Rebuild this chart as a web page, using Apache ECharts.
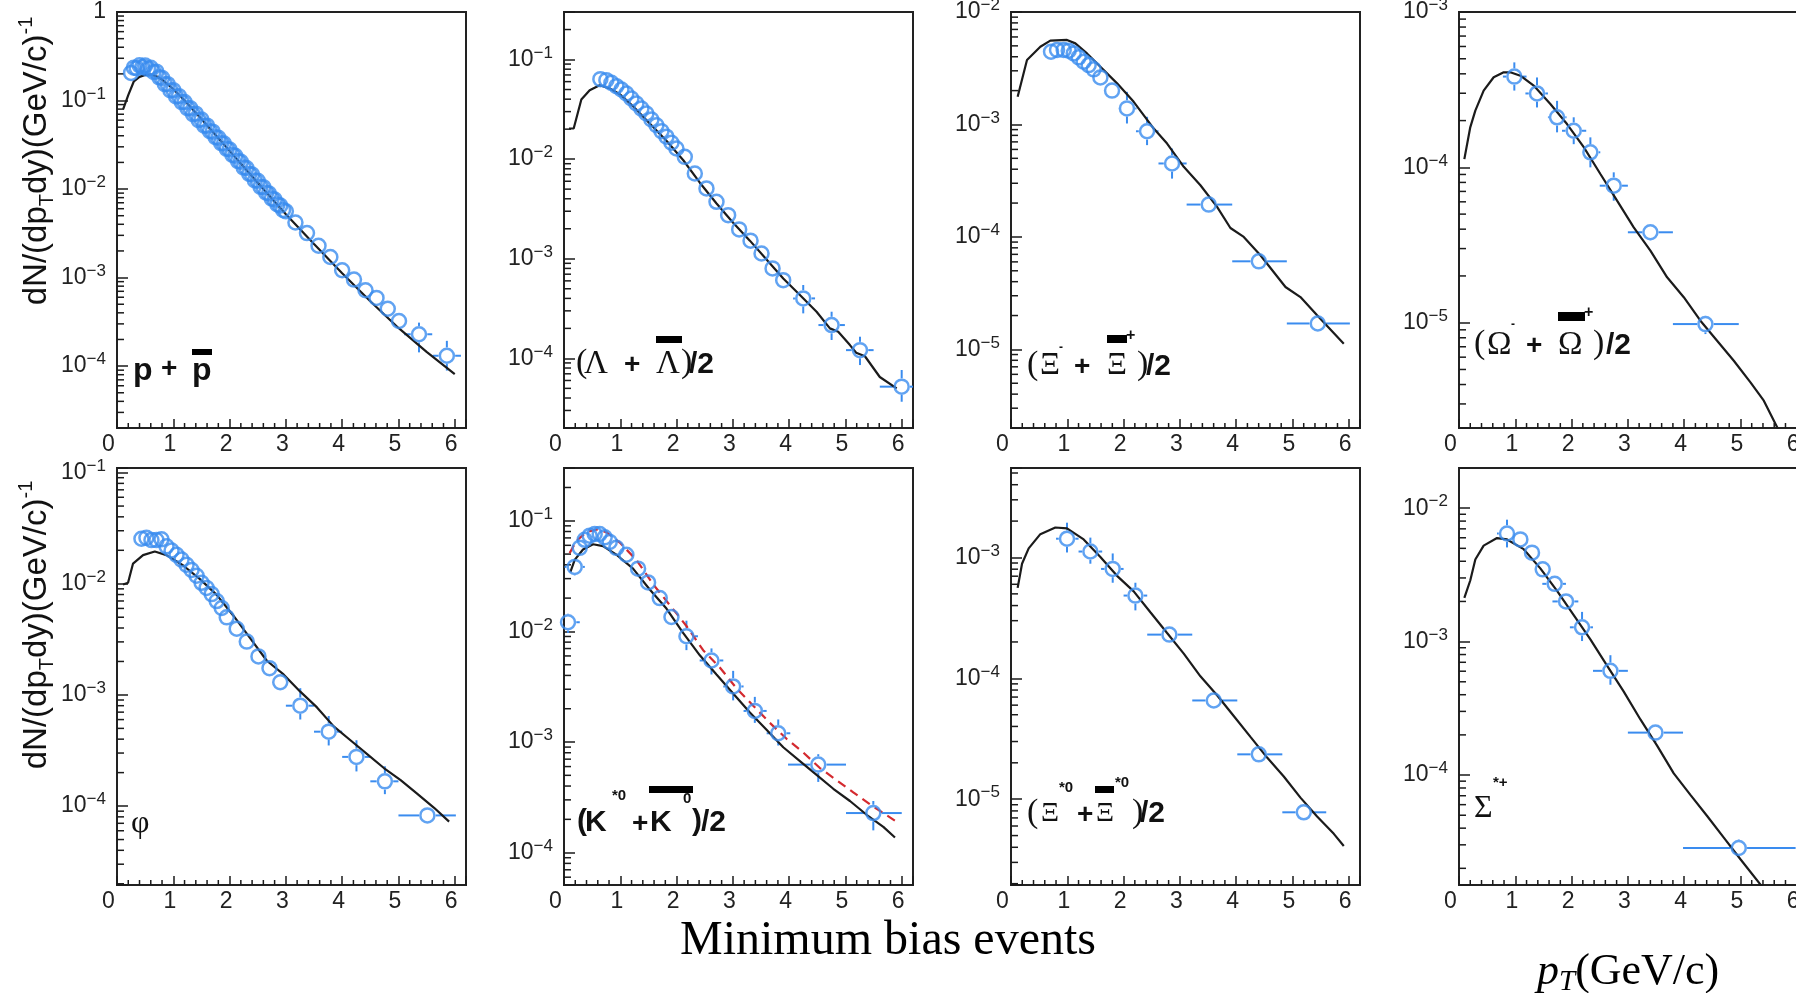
<!DOCTYPE html>
<html><head><meta charset="utf-8">
<script src="https://cdn.jsdelivr.net/npm/echarts@6.0.0/dist/echarts.min.js"></script>
<style>html,body{margin:0;padding:0;background:#fff;}#c{width:1796px;height:993px;}</style>
</head><body><div id="c"></div>
<script>
// ---------- DATA ----------
const xTicks = [0, 1, 2, 3, 4, 5, 6];

// p + pbar
const ppX = [0.25,0.30,0.35,0.40,0.45,0.50,0.55,0.60,0.65,0.70,0.75,0.80,0.85,0.90,0.95,1.00,1.05,1.10,1.15,1.20,1.25,1.30,1.35,1.40,1.45,1.50,1.55,1.60,1.65,1.70,1.75,1.80,1.85,1.90,1.95,2.00,2.05,2.10,2.15,2.20,2.25,2.30,2.35,2.40,2.45,2.50,2.55,2.60,2.65,2.70,2.75,2.80,2.85,2.90,2.95,3.00,3.17,3.375,3.58,3.79,4.0,4.21,4.415,4.61,4.81,5.01,5.365,5.86];
const ppY = [0.205,0.235,0.232,0.25,0.238,0.248,0.228,0.234,0.21,0.212,0.183,0.18,0.153,0.153,0.13,0.131,0.111,0.112,0.096,0.096,0.082,0.082,0.07,0.071,0.06,0.061,0.052,0.052,0.045,0.0445,0.0385,0.038,0.033,0.0327,0.0285,0.028,0.0243,0.0238,0.0207,0.0203,0.0175,0.0173,0.0148,0.0146,0.0125,0.0124,0.0106,0.0105,0.0091,0.0089,0.0078,0.0076,0.0067,0.0065,0.0058,0.0056,4.19e-3,3.18e-3,2.29e-3,1.71e-3,1.21e-3,9.5e-4,7.2e-4,5.9e-4,4.45e-4,3.23e-4,2.29e-4,1.31e-4];
const ppErr = [[5.365,2.29e-4,5.10,5.60,1.43e-4,3.1e-4],[5.86,1.31e-4,5.61,6.11,8.9e-5,1.93e-4]];
const ppFitX = [0.11,0.2,0.3,0.4,0.5,0.6,0.7,0.8,1.0,1.2,1.5,2.0,2.5,3.0,3.5,4.0,4.5,5.0,5.5,6.0];
const ppFitY = [0.08,0.115,0.165,0.185,0.195,0.196,0.188,0.172,0.135,0.1,0.062,0.027,0.0118,0.0052,0.0024,0.00112,0.00054,0.00027,0.000145,0.000081];

// (Lambda + anti-Lambda)/2
const lamX = [0.646,0.753,0.842,0.931,1.02,1.108,1.197,1.286,1.375,1.464,1.553,1.642,1.731,1.82,1.909,1.998,2.146,2.324,2.531,2.709,2.916,3.112,3.314,3.509,3.705,3.894,4.25,4.754,5.258,5.999];
const lamY = [0.0635,0.0621,0.0583,0.054,0.05,0.0456,0.0406,0.0362,0.0322,0.0287,0.025,0.0219,0.0191,0.0168,0.0146,0.0128,0.01055,0.00718,0.00508,0.00373,0.00274,0.00197,0.00152,0.00113,0.0008,0.00061,0.0004,0.000216,0.000121,0.000052];
const lamErr = [[4.25,4.0e-4,4.07,4.46,2.83e-4,5.45e-4],[4.754,2.16e-4,4.52,4.99,1.53e-4,2.94e-4],[5.258,1.21e-4,5.01,5.5,8.57e-5,1.65e-4],[5.999,5.2e-5,5.61,6.2,3.67e-5,7.64e-5]];
const lamFitX = [0.089,0.172,0.308,0.456,0.634,0.812,0.99,1.227,1.523,1.82,2.116,2.413,2.71,3.005,3.302,3.598,3.895,4.191,4.487,4.724,4.872,5.08,5.19,5.346,5.61,5.91];
const lamFitY = [0.0203,0.0203,0.0397,0.0492,0.0552,0.0512,0.0449,0.034,0.0228,0.0153,0.0098,0.0058,0.00359,0.0023,0.00152,0.000985,0.000635,0.000432,0.000294,0.0002,0.000185,0.000136,0.000114,0.000105,6.5e-5,5.0e-5];

// (Xi- + anti-Xi+)/2
const xiX = [0.711,0.818,0.936,1.025,1.114,1.203,1.291,1.38,1.469,1.588,1.795,2.06,2.417,2.861,3.513,4.402,5.45];
const xiY = [4.43e-3,4.59e-3,4.59e-3,4.53e-3,4.28e-3,3.95e-3,3.61e-3,3.37e-3,3.09e-3,2.62e-3,2.0e-3,1.39e-3,8.7e-4,4.5e-4,1.94e-4,6.07e-5,1.7e-5];
const xiErr = [[2.06,1.39e-3,1.91,2.23,1.02e-3,1.95e-3],[2.417,8.7e-4,2.22,2.62,6.55e-4,1.17e-3],[2.861,4.5e-4,2.62,3.12,3.3e-4,6.11e-4],[3.513,1.94e-4,3.12,3.93,null,null],[4.402,6.07e-5,3.93,4.9,null,null],[5.45,1.7e-5,4.9,6.02,null,null]];
const xiFitX = [0.118,0.284,0.521,0.699,0.995,1.143,1.35,1.588,1.884,2.18,2.536,2.773,3.069,3.365,3.661,3.898,4.135,4.431,4.876,5.142,5.438,5.912];
const xiFitY = [1.76e-3,3.74e-3,4.91e-3,5.56e-3,5.64e-3,5.26e-3,4.28e-3,3.26e-3,2.32e-3,1.59e-3,9.2e-4,6.77e-4,4.2e-4,2.88e-4,1.85e-4,1.2e-4,1.0e-4,6.87e-5,3.59e-5,2.92e-5,2.01e-5,1.12e-5];

// (Omega- + anti-Omega+)/2
const omX = [0.983,1.386,1.742,2.038,2.334,2.749,3.4,4.378];
const omY = [3.84e-4,2.99e-4,2.1e-4,1.72e-4,1.25e-4,7.62e-5,3.82e-5,9.8e-6];
const omErr = [[0.983,3.84e-4,0.78,1.2,3.12e-4,4.74e-4],[1.386,2.99e-4,1.18,1.58,2.43e-4,3.79e-4],[1.742,2.1e-4,1.58,1.91,1.68e-4,2.68e-4],[2.038,1.72e-4,1.83,2.26,1.41e-4,2.1e-4],[2.334,1.25e-4,2.19,2.51,1.0e-4,1.56e-4],[2.749,7.62e-5,2.5,3.0,6.1e-5,9.29e-5],[3.4,3.82e-5,3.0,3.8,3.37e-5,4.32e-5],[4.378,9.8e-6,3.8,4.97,8.45e-6,1.11e-5]];
const omFitX = [0.095,0.2,0.29,0.438,0.616,0.794,0.912,1.09,1.327,1.623,1.919,2.216,2.512,2.808,3.104,3.4,3.697,3.993,4.289,4.585,4.882,5.178,5.415,5.652,5.9];
const omFitY = [1.13e-4,1.81e-4,2.32e-4,3.12e-4,3.8e-4,4.09e-4,4.09e-4,3.89e-4,3.36e-4,2.56e-4,1.9e-4,1.35e-4,9.06e-5,6.1e-5,4.11e-5,2.91e-5,1.96e-5,1.46e-5,1.03e-5,7.66e-6,5.69e-6,4.13e-6,3.15e-6,2.12e-6,1.4e-6];

// phi
const phiX = [0.434,0.523,0.612,0.701,0.79,0.879,0.969,1.058,1.147,1.236,1.325,1.414,1.503,1.592,1.682,1.771,1.86,1.949,2.127,2.305,2.513,2.709,2.9,3.256,3.761,4.254,4.759,5.514];
const phiY = [0.0254,0.0259,0.0247,0.0247,0.0251,0.0217,0.0199,0.0182,0.0165,0.0148,0.0133,0.0118,0.0102,0.00918,0.00807,0.00699,0.00605,0.00499,0.00394,0.00302,0.00222,0.00174,0.0013,8.0e-4,4.67e-4,2.77e-4,1.67e-4,8.24e-5];
const phiErr = [[3.256,8.0e-4,3.0,3.5,6.01e-4,1.15e-3],[3.761,4.67e-4,3.5,4.0,3.51e-4,6.46e-4],[4.254,2.77e-4,4.0,4.5,2.05e-4,3.91e-4],[4.759,1.67e-4,4.5,5.0,1.28e-4,2.28e-4],[5.514,8.24e-5,5.0,6.02,7.24e-5,9.31e-5]];
const phiFitX = [0.107,0.196,0.285,0.463,0.671,0.879,1.176,1.474,1.771,2.068,2.365,2.662,2.959,3.256,3.553,3.85,4.147,4.444,4.741,5.039,5.336,5.633,5.9];
const phiFitY = [9.86e-3,0.0102,0.0152,0.0181,0.0195,0.0181,0.0146,0.011,0.00794,0.00516,0.00324,0.00203,0.00153,0.00107,7.72e-4,5.21e-4,3.91e-4,2.93e-4,2.2e-4,1.71e-4,1.29e-4,9.65e-5,7.24e-5];

// (K*0 + anti-K*0)/2
const kstX = [0.071,0.19,0.279,0.368,0.456,0.545,0.634,0.723,0.812,0.931,1.108,1.316,1.494,1.701,1.909,2.175,2.62,3.005,3.39,3.806,4.517,5.495];
const kstY = [0.0121,0.0383,0.0569,0.0673,0.0733,0.076,0.076,0.0708,0.0644,0.0569,0.0493,0.0369,0.0277,0.02,0.0135,0.00904,0.00546,0.00318,0.00191,0.0012,6.25e-4,2.28e-4];
const kstErr = [[0.071,0.0121,0.0,0.28,0.0097,0.01445],[0.19,0.0383,0.01,0.37,0.032,0.0458],[2.175,0.00904,2.03,2.38,0.00677,0.0125],[2.62,0.00546,2.41,2.83,0.00408,0.00702],[3.005,0.00318,2.83,3.19,0.00238,0.0044],[3.39,0.00191,3.19,3.6,0.00149,0.00256],[3.806,0.0012,3.6,4.02,9.3e-4,0.0016],[4.517,6.25e-4,3.98,5.01,4.36e-4,7.76e-4],[5.495,2.28e-4,5.01,6.0,1.59e-4,2.93e-4]];
const kstFitX = [0.113,0.19,0.338,0.516,0.694,0.931,1.227,1.523,1.82,2.116,2.413,2.709,3.005,3.302,3.598,3.895,4.191,4.487,4.784,5.08,5.376,5.673,5.88];
const kstFitY = [0.0344,0.0443,0.055,0.0613,0.059,0.0493,0.0369,0.0239,0.0161,0.0097,0.00608,0.00408,0.00275,0.00185,0.00129,8.97e-4,6.73e-4,5.04e-4,3.78e-4,2.93e-4,2.2e-4,1.71e-4,1.37e-4];
const kstDashX = [0.1,0.22,0.397,0.575,0.753,0.99,1.286,1.583,1.879,2.175,2.472,2.768,3.065,3.361,3.657,3.954,4.25,4.546,4.843,5.139,5.436,5.91];
const kstDashY = [0.051,0.0658,0.0788,0.0835,0.0788,0.0635,0.0443,0.0267,0.0173,0.0112,0.00677,0.00472,0.00306,0.00213,0.00149,0.00107,8.05e-4,5.82e-4,4.52e-4,3.51e-4,2.73e-4,1.9e-4];

// (Xi*0 + anti-Xi*0)/2
const xs0X = [0.995,1.41,1.807,2.21,2.814,3.602,4.402,5.201];
const xs0Y = [1.43e-3,1.12e-3,8.04e-4,4.84e-4,2.3e-4,6.56e-5,2.35e-5,7.79e-6];
const xs0Err = [[0.995,1.43e-3,0.8,1.2,1.1e-3,1.94e-3],[1.41,1.12e-3,1.2,1.62,8.88e-4,1.46e-3],[1.807,8.04e-4,1.6,2.0,6.18e-4,1.08e-3],[2.21,4.84e-4,2.0,2.42,3.65e-4,6.18e-4],[2.814,2.3e-4,2.42,3.22,null,null],[3.602,6.56e-5,3.22,4.02,null,null],[4.402,2.35e-5,4.02,4.82,null,null],[5.201,7.79e-6,4.82,5.6,null,null]];
const xs0FitX = [0.118,0.196,0.314,0.521,0.788,0.995,1.291,1.588,1.884,2.18,2.476,2.773,3.069,3.365,3.661,3.957,4.254,4.55,4.846,5.142,5.438,5.735,5.912];
const xs0FitY = [5.6e-4,8.88e-4,1.19e-3,1.56e-3,1.77e-3,1.74e-3,1.41e-3,1.01e-3,7.05e-4,5.24e-4,3.52e-4,2.37e-4,1.6e-4,1.04e-4,7.24e-5,4.88e-5,3.28e-5,2.21e-5,1.54e-5,1.03e-5,7.19e-6,5.17e-6,4.1e-6];

// Sigma*+
const sgX = [0.853,1.09,1.297,1.487,1.7,1.902,2.186,2.69,3.49,4.97];
const sgY = [6.46e-3,5.83e-3,4.64e-3,3.48e-3,2.71e-3,2.0e-3,1.28e-3,6.04e-4,2.08e-4,2.84e-5];
const sgErr = [[0.853,6.46e-3,0.675,1.0,5.08e-3,8.2e-3],[1.7,2.71e-3,1.48,1.9,null,null],[1.902,2.0e-3,1.66,2.12,null,null],[2.186,1.28e-3,1.97,2.38,1.01e-3,1.67e-3],[2.69,6.04e-4,2.38,3.0,4.75e-4,7.91e-4],[3.49,2.08e-4,3.0,3.98,1.77e-4,2.32e-4],[4.97,2.84e-5,3.98,5.98,2.52e-5,3.3e-5]];
const sgFitX = [0.095,0.2,0.29,0.438,0.675,0.853,1.149,1.445,1.742,2.038,2.334,2.63,2.927,3.223,3.519,3.815,4.111,4.408,4.704,5.0,5.367,5.53];
const sgFitY = [2.13e-3,2.87e-3,4.12e-3,5.24e-3,5.97e-3,5.83e-3,4.93e-3,3.54e-3,2.4e-3,1.58e-3,1.04e-3,6.61e-4,4.22e-4,2.61e-4,1.66e-4,1.03e-4,7.11e-5,4.93e-5,3.4e-5,2.34e-5,1.49e-5,1.19e-5];

// axis ranges (y: log scale)
const yMins = [2e-5, 2e-5, 2e-6, 2.1e-6, 1.95e-5, 5.1e-5, 1.95e-6, 1.5e-5];
const yMaxs = [1, 0.3, 1e-2, 1e-3, 0.11, 0.3, 5.5e-3, 0.02];
const xMin = 0, xMax = 6.2;

// ---------- LAYOUT / STYLE ----------
const BLUE = '#3a8cef';
const INK = '#1b1b1b';
const SANS = 'Liberation Sans, Arial, sans-serif';
const SERIF = 'Liberation Serif, Times New Roman, serif';
const gridPos = [
  {left:117, top:12, height:416}, {left:564, top:12, height:416}, {left:1011, top:12, height:416}, {left:1459, top:12, height:416},
  {left:117, top:468, height:417}, {left:564, top:468, height:417}, {left:1011, top:468, height:417}, {left:1459, top:468, height:417}
];
const GW = 349;

const zip = (a, b) => a.map((v, i) => [v, b[i]]);
const panelSets = [
  {pts: zip(ppX, ppY), err: ppErr, fits: [zip(ppFitX, ppFitY)]},
  {pts: zip(lamX, lamY), err: lamErr, fits: [zip(lamFitX, lamFitY)]},
  {pts: zip(xiX, xiY), err: xiErr, fits: [zip(xiFitX, xiFitY)]},
  {pts: zip(omX, omY), err: omErr, fits: [zip(omFitX, omFitY)]},
  {pts: zip(phiX, phiY), err: phiErr, fits: [zip(phiFitX, phiFitY)]},
  {pts: zip(kstX, kstY), err: kstErr, fits: [zip(kstFitX, kstFitY)], dash: zip(kstDashX, kstDashY)},
  {pts: zip(xs0X, xs0Y), err: xs0Err, fits: [zip(xs0FitX, xs0FitY)]},
  {pts: zip(sgX, sgY), err: sgErr, fits: [zip(sgFitX, sgFitY)]}
];

function yLabel(v) {
  const e = Math.log10(v), r = Math.round(e);
  if (Math.abs(e - r) > 1e-6) return '';
  if (r === 0) return '{b|1}';
  return '{b|10}{s|\u2212' + (-r) + '}';
}
function xLabel(v) {
  const r = Math.round(v);
  if (Math.abs(v - r) > 1e-9 || xTicks.indexOf(r) < 0) return '';
  return r === 0 ? '{z|0}' : '{t|' + r + '}';
}

function minorTickData(i) {
  const out = [];
  const lo = Math.floor(Math.log10(yMins[i])), hi = Math.ceil(Math.log10(yMaxs[i]));
  for (let e = lo; e <= hi; e++) {
    for (let k = 2; k <= 9; k++) {
      const v = k * Math.pow(10, e);
      if (v > yMins[i] * 1.0001 && v < yMaxs[i] * 0.9999) out.push([xMin, v, 0]);
    }
  }
  for (let j = 1; j < 31; j++) {
    if (j % 5 === 0) continue;
    const v = j / 5;
    if (v < xMax - 1e-6) out.push([v, yMins[i], 1]);
  }
  return out;
}

function tickRender(params, api) {
  const p = api.coord([api.value(0), api.value(1)]);
  const st = {stroke: INK, lineWidth: 1.5};
  if (api.value(2) === 0) return {type: 'line', shape: {x1: p[0], y1: p[1], x2: p[0] + 7, y2: p[1]}, style: st};
  return {type: 'line', shape: {x1: p[0], y1: p[1], x2: p[0], y2: p[1] - 5}, style: st};
}

function errRender(params, api) {
  const x = api.value(0), y = api.value(1);
  const xl = api.value(2), xh = api.value(3), yl = api.value(4), yh = api.value(5);
  const c = api.coord([x, y]);
  const R = 8.3;
  const st = {stroke: BLUE, lineWidth: 2};
  const ch = [];
  if (xh > xl) {
    const a = api.coord([xl, y]), b = api.coord([xh, y]);
    if (a[0] < c[0] - R) ch.push({type: 'line', shape: {x1: a[0], y1: c[1], x2: c[0] - R, y2: c[1]}, style: st});
    if (b[0] > c[0] + R) ch.push({type: 'line', shape: {x1: c[0] + R, y1: c[1], x2: b[0], y2: c[1]}, style: st});
  }
  if (yh > yl) {
    const a = api.coord([x, yl]), b = api.coord([x, yh]);
    if (a[1] > c[1] + R) ch.push({type: 'line', shape: {x1: c[0], y1: c[1] + R, x2: c[0], y2: a[1]}, style: st});
    if (b[1] < c[1] - R) ch.push({type: 'line', shape: {x1: c[0], y1: b[1], x2: c[0], y2: c[1] - R}, style: st});
  }
  return {type: 'group', children: ch};
}

const grids = [], xAxes = [], yAxes = [], series = [];
gridPos.forEach((g, i) => {
  grids.push({left: g.left, top: g.top, width: GW, height: g.height, show: true, borderColor: '#222', borderWidth: 2, containLabel: false, outerBoundsMode: 'none', backgroundColor: 'rgba(0,0,0,0)'});
  xAxes.push({gridIndex: i, type: 'value', min: xMin, max: xMax, interval: 1,
    axisLine: {show: true, onZero: false, lineStyle: {color: '#222', width: 2}},
    axisTick: {show: true, inside: true, length: 9, lineStyle: {color: INK, width: 1.5}},
    axisLabel: {formatter: xLabel, margin: 5, showMinLabel: true, showMaxLabel: true,
      rich: {z: {fontSize: 23, fontFamily: SANS, color: '#222', padding: [0, 17, 0, 0]},
             t: {fontSize: 23, fontFamily: SANS, color: '#222', padding: [0, 7, 0, 0]}}},
    splitLine: {show: false}});
  yAxes.push({gridIndex: i, type: 'log', logBase: 10, min: yMins[i], max: yMaxs[i],
    axisLine: {show: true, lineStyle: {color: '#222', width: 2}},
    axisTick: {show: true, inside: true, length: 11, lineStyle: {color: INK, width: 1.5}},
    axisLabel: {formatter: yLabel, margin: 11, showMinLabel: true, showMaxLabel: true,
      rich: {b: {fontSize: 23, fontFamily: SANS, color: '#222', lineHeight: 30},
             s: {fontSize: 17, fontFamily: SANS, color: '#222', verticalAlign: 'top', lineHeight: 18}}},
    splitLine: {show: false}});
  const set = panelSets[i];
  series.push({type: 'custom', xAxisIndex: i, yAxisIndex: i, renderItem: tickRender, data: minorTickData(i), silent: true, z: 1, clip: false});
  const errData = set.err.map(r => [r[0], r[1], r[2] == null ? r[0] : r[2], r[3] == null ? r[0] : r[3], r[4] == null ? r[1] : r[4], r[5] == null ? r[1] : r[5]]);
  series.push({type: 'custom', xAxisIndex: i, yAxisIndex: i, renderItem: errRender, data: errData, silent: true, z: 2});
  set.fits.forEach(f => series.push({type: 'line', xAxisIndex: i, yAxisIndex: i, data: f, symbol: 'none', showSymbol: false, smooth: false, clip: true, silent: true, z: 3, lineStyle: {color: INK, width: 2.2}}));
  if (set.dash) series.push({type: 'line', xAxisIndex: i, yAxisIndex: i, data: set.dash, symbol: 'none', showSymbol: false, clip: true, silent: true, z: 3, lineStyle: {color: '#d42a2f', width: 2.2, type: [9, 6]}});
  series.push({type: 'scatter', xAxisIndex: i, yAxisIndex: i, data: set.pts, symbol: 'circle', symbolSize: 14, silent: true, z: 4,
    itemStyle: {color: 'rgba(255,255,255,0)', borderColor: BLUE, borderWidth: 2.5}});
});

// ---------- TEXT ----------
function T(x, y, text, size, family, weight) {
  return {type: 'text', x: x, y: y, silent: true, z: 100,
    style: {text: text, fill: '#111', fontSize: size, fontFamily: family, fontWeight: weight || 'normal',
      align: 'left', textAlign: 'left', verticalAlign: 'middle', textVerticalAlign: 'middle'}};
}
function BAR(x, y, w, h) {
  return {type: 'rect', silent: true, z: 100, shape: {x: x, y: y, width: w, height: h}, style: {fill: '#000'}};
}
function yTitle(cy) {
  return {type: 'text', x: 37, y: cy, rotation: Math.PI / 2, silent: true, z: 100,
    style: {text: '{m|dN/(dp}{sub|T}{m|dy)(GeV/c)}{sup|-1}', align: 'center', textAlign: 'center', verticalAlign: 'middle', textVerticalAlign: 'middle',
      rich: {m: {fontSize: 33, fontFamily: SANS, fill: '#111', color: '#111', lineHeight: 41},
             sub: {fontSize: 20, fontFamily: SANS, fill: '#111', color: '#111', verticalAlign: 'bottom', lineHeight: 20},
             sup: {fontSize: 20, fontFamily: SANS, fill: '#111', color: '#111', verticalAlign: 'top', lineHeight: 20}}}};
}
const B = 'bold';
const graphics = [
  // p + pbar
  T(133, 371, 'p', 32, SANS, B), T(161, 369, '+', 28, SANS, B), T(192, 371, 'p', 32, SANS, B), BAR(192, 349, 20, 6),
  // (Lambda + Lambda)/2
  T(576, 363, '(', 34, SERIF), T(584, 364, '\u039B', 33, SERIF), T(624, 365, '+', 28, SANS, B),
  T(656, 364, '\u039B', 33, SERIF), T(681, 363, ')', 34, SERIF), T(689, 365, '/2', 30, SANS, B), BAR(656, 336, 26, 7),
  // (Xi- + Xi+)/2
  T(1027, 365, '(', 34, SERIF), T(1040, 366, '\u039E', 31, SERIF), T(1059, 348, '-', 12, SANS, B), T(1074, 367, '+', 28, SANS, B),
  T(1107, 366, '\u039E', 31, SERIF), BAR(1107, 335, 20, 8), T(1126, 336, '+', 16, SANS, B), T(1137, 365, ')', 34, SERIF), T(1146, 367, '/2', 30, SANS, B),
  // (Omega- + Omega+)/2
  T(1474, 344, '(', 34, SERIF), T(1487, 345, '\u03A9', 33, SERIF), T(1511, 325, '-', 12, SANS, B), T(1526, 346, '+', 28, SANS, B),
  T(1558, 345, '\u03A9', 33, SERIF), BAR(1558, 312, 27, 9), T(1584, 313, '+', 16, SANS, B), T(1593, 344, ')', 34, SERIF), T(1606, 346, '/2', 30, SANS, B),
  // phi
  T(131, 824, '\u03C6', 32, SERIF),
  // (K*0 + K*0)/2
  T(577, 822, '(', 30, SANS, B), T(585, 823, 'K', 30, SANS, B), T(612, 796, '*0', 15, SANS, B), T(632, 824, '+', 28, SANS, B),
  T(650, 823, 'K', 30, SANS, B), BAR(649, 786, 44, 7), T(683, 799, '0', 15, SANS, B), T(692, 822, ')', 30, SANS, B), T(701, 823, '/2', 30, SANS, B),
  // (Xi*0 + Xi*0)/2
  T(1027, 813, '(', 34, SERIF), T(1041, 814, '\u039E', 28, SERIF), T(1059, 788, '*0', 15, SANS, B), T(1077, 815, '+', 28, SANS, B),
  T(1096, 814, '\u039E', 28, SERIF), BAR(1095, 786, 19, 7), T(1115, 783, '*0', 15, SANS, B), T(1132, 813, ')', 34, SERIF), T(1140, 814, '/2', 30, SANS, B),
  // Sigma*+
  T(1474, 809, '\u03A3', 32, SERIF), T(1493, 783, '*+', 15, SANS, B),
  // y titles
  yTitle(161), yTitle(625),
  // bottom captions
  {type: 'text', x: 888, y: 941, silent: true, z: 100,
    style: {text: 'Minimum bias events', fill: '#000', fontSize: 48, fontFamily: SERIF, align: 'center', textAlign: 'center', verticalAlign: 'middle', textVerticalAlign: 'middle'}},
  {type: 'text', x: 1537, y: 972, silent: true, z: 100,
    style: {text: '{i|p}{sub|T}{n|(GeV/c)}', align: 'left', textAlign: 'left', verticalAlign: 'middle', textVerticalAlign: 'middle',
      rich: {i: {fontSize: 44, fontFamily: SERIF, fontStyle: 'italic', fill: '#000', color: '#000', lineHeight: 50},
             sub: {fontSize: 29, fontFamily: SERIF, fontStyle: 'italic', fill: '#000', color: '#000', verticalAlign: 'bottom', lineHeight: 29},
             n: {fontSize: 44, fontFamily: SERIF, fill: '#000', color: '#000', lineHeight: 50}}}}
];

const chart = echarts.init(document.getElementById('c'), null, {renderer: 'canvas', width: 1796, height: 993});
chart.setOption({
  animation: false,
  backgroundColor: '#fff',
  grid: grids, xAxis: xAxes, yAxis: yAxes, series: series, graphic: graphics
});
</script></body></html>
